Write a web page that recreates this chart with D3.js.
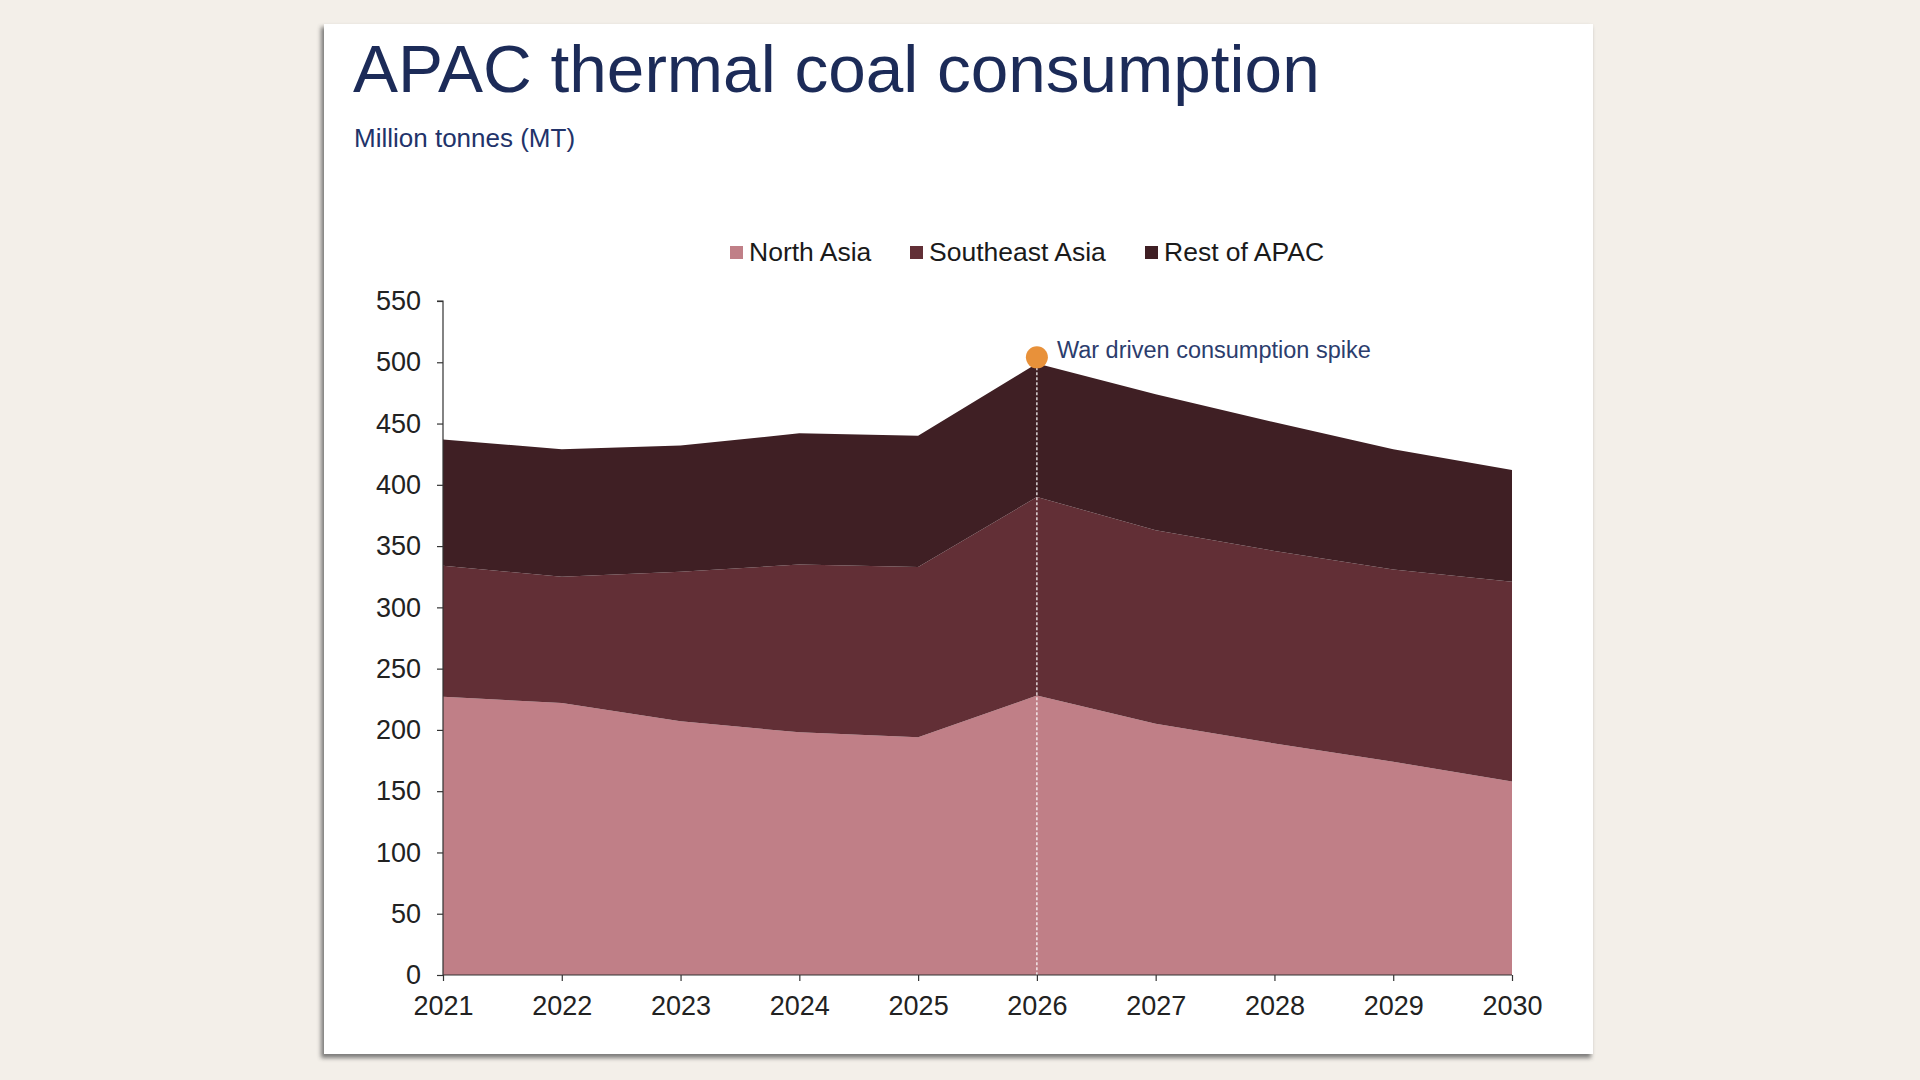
<!DOCTYPE html>
<html>
<head>
<meta charset="utf-8">
<script src="https://cdn.jsdelivr.net/npm/d3@7"></script>
<style>
  html, body { margin: 0; padding: 0; background: #f3efe9; }
  svg { display: block; font-family: "Liberation Sans", Arial, sans-serif; }
</style>
</head>
<body>
<svg id="chart" width="1920" height="1080"></svg>
<script>
// data
var years = [2021, 2022, 2023, 2024, 2025, 2026, 2027, 2028, 2029, 2030];
var northAsia = [227, 222, 207, 198, 194, 228, 205, 189, 174, 158];
var southeastAsia = [107, 103, 122, 137, 139, 162, 158, 157, 157, 163];
var restOfApac = [103, 104, 103, 107, 107, 109, 111, 105, 98, 91];
var seriesNames = ["North Asia", "Southeast Asia", "Rest of APAC"];
var yTicks = [0, 50, 100, 150, 200, 250, 300, 350, 400, 450, 500, 550];
var spikeYear = 2026;
var spikeLabel = "War driven consumption spike";

var colors = ["#c07f87", "#622f36", "#3f1f24"];

var rows = years.map(function (y, i) {
  return { year: y, "North Asia": northAsia[i], "Southeast Asia": southeastAsia[i], "Rest of APAC": restOfApac[i] };
});

var svg = d3.select("#chart");

// card + shadow
var defs = svg.append("defs");
var f = defs.append("filter").attr("id", "shadow").attr("x", "-5%").attr("y", "-5%").attr("width", "110%").attr("height", "110%");
f.append("feGaussianBlur").attr("stdDeviation", 2);
svg.append("rect").attr("x", 321).attr("y", 27).attr("width", 1270).attr("height", 1031)
  .attr("fill", "#555").attr("opacity", 0.75).attr("filter", "url(#shadow)");
svg.append("rect").attr("x", 324).attr("y", 24).attr("width", 1269).attr("height", 1030).attr("fill", "#fff");

svg.append("text").attr("x", 353).attr("y", 92)
  .attr("font-size", 67.5).attr("fill", "#1c2b58").text("APAC thermal coal consumption");
svg.append("text").attr("x", 354).attr("y", 147)
  .attr("font-size", 26).attr("font-weight", 500).attr("fill", "#22336a").text("Million tonnes (MT)");

var x = d3.scaleLinear().domain([2021, 2030]).range([443, 1512]);
var y = d3.scaleLinear().domain([0, 550]).range([975, 301]);

var stack = d3.stack().keys(seriesNames);
var layers = stack(rows);

var area = d3.area()
  .x(function (d) { return x(d.data.year); })
  .y0(function (d) { return y(d[0]); })
  .y1(function (d) { return y(d[1]); });

svg.append("g").selectAll("path").data(layers).enter().append("path")
  .attr("d", area)
  .attr("fill", function (d, i) { return colors[i]; });

// spike marker
var spikeIdx = years.indexOf(spikeYear);
var spikeTotal = northAsia[spikeIdx] + southeastAsia[spikeIdx] + restOfApac[spikeIdx];
svg.append("line")
  .attr("x1", x(spikeYear)).attr("x2", x(spikeYear))
  .attr("y1", y(spikeTotal + 5)).attr("y2", y(0))
  .attr("stroke", "#fff").attr("stroke-width", 1.2).attr("stroke-dasharray", "3,2");

// axes
var yAxis = d3.axisLeft(y).tickValues(yTicks).tickSize(6).tickPadding(16);
var gy = svg.append("g").attr("transform", "translate(" + 443 + ",0)").call(yAxis);
var xAxis = d3.axisBottom(x).tickValues(years).tickFormat(d3.format("d")).tickSize(6).tickPadding(15);
var gx = svg.append("g").attr("transform", "translate(0," + 975 + ")").call(xAxis);

[gy, gx].forEach(function (g) {
  g.select(".domain").attr("stroke", "#333").attr("stroke-width", 1.2);
  g.selectAll(".tick line").attr("stroke", "#333").attr("stroke-width", 1.2);
  g.selectAll(".tick text").attr("font-size", 27).attr("fill", "#222")
    .attr("font-family", "'Liberation Sans', Arial, sans-serif");
});
gy.select(".domain").attr("d", "M-6," + y(550) + "H0V" + y(0));
gx.select(".domain").attr("d", "M" + x(2021) + ",0H" + x(2030));

svg.append("circle").attr("cx", x(spikeYear)).attr("cy", y(spikeTotal + 5)).attr("r", 11).attr("fill", "#e8913a");
svg.append("text").attr("x", x(spikeYear) + 20).attr("y", y(spikeTotal + 5) + 1)
  .attr("font-size", 23.5).attr("font-weight", 500).attr("fill", "#2c3d6d").text(spikeLabel);

// legend
var legendX = [730, 910, 1145];
var lg = svg.append("g").selectAll("g").data(seriesNames).enter().append("g")
  .attr("transform", function (d, i) { return "translate(" + legendX[i] + ",261)"; });
lg.append("rect").attr("x", 0).attr("y", -15).attr("width", 13).attr("height", 13)
  .attr("fill", function (d, i) { return colors[i]; });
lg.append("text").attr("x", 19).attr("y", 0).attr("font-size", 26.5).attr("fill", "#1a1a1a")
  .text(function (d) { return d; });
</script>
</body>
</html>
